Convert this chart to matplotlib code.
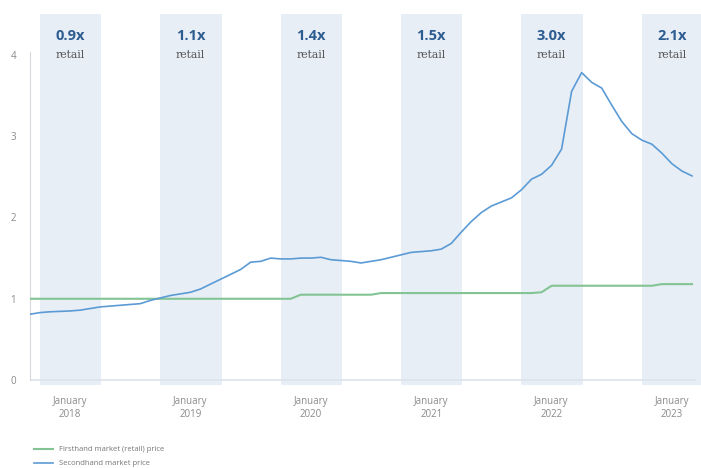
import matplotlib
matplotlib.use("Agg")
import matplotlib.pyplot as plt
import numpy as np

# months since January 2018
months = list(range(-4, 63))
secondhand = [0.81, 0.83, 0.84, 0.845, 0.85, 0.86, 0.88, 0.90, 0.91, 0.92, 0.93, 0.94,
              0.98, 1.01, 1.04, 1.06, 1.08, 1.12, 1.18, 1.24, 1.30, 1.36, 1.45, 1.46,
              1.50, 1.49, 1.49, 1.50, 1.50, 1.51, 1.48, 1.47, 1.46, 1.44, 1.46, 1.48,
              1.51, 1.54, 1.57, 1.58, 1.59, 1.61, 1.68, 1.82, 1.95, 2.06, 2.14, 2.19,
              2.24, 2.34, 2.47, 2.53, 2.64, 2.84, 3.55, 3.78, 3.66, 3.59, 3.38, 3.18,
              3.03, 2.95, 2.90, 2.79, 2.66, 2.57, 2.51]
firsthand = ([1.00] * 27 + [1.05] * 8 + [1.07] * 16 + [1.08] + [1.16] * 11 + [1.18] * 4)

year_ticks = [0, 12, 24, 36, 48, 60]
year_labels = ["January\n2018", "January\n2019", "January\n2020",
               "January\n2021", "January\n2022", "January\n2023"]
multiples = ["0.9x", "1.1x", "1.4x", "1.5x", "3.0x", "2.1x"]

fig = plt.figure(figsize=(7.01, 4.68), dpi=100)
ax = fig.add_axes([0.0428, 0.177, 0.9572, 0.793])

band_color = "#e8eef6"
for t in year_ticks:
    ax.axvspan(t - 3, t + 3.1, color=band_color, zorder=0, lw=0)

ax.hlines(0, -4, 62.4, color="#dde3ea", lw=1.2, zorder=1)

ax.plot(months, firsthand, color="#82c493", lw=1.5, zorder=3,
        label="Firsthand market (retail) price")
ax.plot(months, secondhand, color="#5b9bd5", lw=1.2, zorder=4,
        label="Secondhand market price")

for t, mlt in zip(year_ticks, multiples):
    ax.text(t, 4.23, mlt, ha="center", va="center", fontsize=10.5,
            fontweight="bold", color="#2d5c91", family="Open Sans")
    ax.text(t, 3.995, "retail", ha="center", va="center", fontsize=7.8,
            color="#555555", family="DejaVu Serif")

ax.set_xlim(-4, 62.9)
ax.set_ylim(-0.062, 4.5)
ax.set_yticks([0, 1, 2, 3, 4])
ax.set_yticklabels(["0", "1", "2", "3", "4"])
ax.set_xticks(year_ticks)
ax.set_xticklabels(year_labels)

for s in ["top", "right", "bottom"]:
    ax.spines[s].set_visible(False)
ax.spines["left"].set_color("#d5d9de")
ax.spines["left"].set_bounds(0, 4.03)
ax.tick_params(axis="y", length=0, pad=10, labelsize=7, labelcolor="#8a8a8a")
ax.tick_params(axis="x", length=0, pad=8, labelsize=7, labelcolor="#8a8a8a")
for lab in ax.get_xticklabels() + ax.get_yticklabels():
    lab.set_family("Open Sans")
ax.set_facecolor("none")

fig.legend(loc="upper left", bbox_to_anchor=(0.038, 0.062), frameon=False,
           handlelength=2.6, labelcolor="#777777",
           prop={"family": "Open Sans", "size": 5.5}, labelspacing=0.9)

fig.savefig("out.png", dpi=100)
